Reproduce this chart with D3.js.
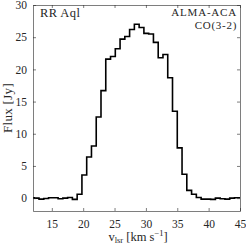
<!DOCTYPE html>
<html>
<head>
<meta charset="utf-8">
<script src="https://cdn.jsdelivr.net/npm/d3@7"></script>
<style>
  body { margin: 0; background: #fff; }
  text { font-family: "Liberation Serif", "DejaVu Serif", serif; fill: #262626; }
</style>
</head>
<body>
<script>
// channel centres (km/s) and flux (Jy)
var velocity = [11.82, 12.58, 13.34, 14.10, 14.86, 15.62, 16.38, 17.14, 17.90,
    18.66, 19.42, 20.18, 20.94, 21.70, 22.46, 23.22, 23.98, 24.74, 25.50,
    26.26, 27.02, 27.78, 28.54, 29.30, 30.06, 30.82, 31.58, 32.34, 33.10,
    33.86, 34.62, 35.38, 36.14, 36.90, 37.66, 38.42, 39.18, 39.94, 40.70,
    41.46, 42.22, 42.98, 43.74, 44.50, 45.26];
var flux = [0.05, 0.0, -0.15, -0.05, 0.05, 0.05, -0.1, 0.0, 0.1,
    -0.2, 0.6, 3.6, 6.4, 8.1, 12.6, 16.7, 21.6, 22.0, 23.2,
    24.7, 25.1, 26.2, 27.0, 26.5, 25.6, 25.5, 24.2, 21.8, 22.3,
    18.7, 13.5, 7.8, 3.7, 1.2, 0.6, 0.1, -0.15, -0.15, -0.2,
    0.0, -0.1, -0.15, 0.0, 0.05, 0.05];
var xTicks = [15, 20, 25, 30, 35, 40, 45];
var yTicks = [0, 5, 10, 15, 20, 25, 30];

var W = 246, H = 245;
var margin = { top: 5, right: 6, bottom: 34, left: 33 },
    width = W - margin.left - margin.right,
    height = H - margin.top - margin.bottom;

var svg = d3.select("body").append("svg")
    .attr("width", W)
    .attr("height", H);

var g = svg.append("g")
    .attr("transform", "translate(" + margin.left + "," + margin.top + ")");

var x = d3.scaleLinear().domain([12, 45]).range([0, width]);
var y = d3.scaleLinear().domain([-2, 30]).range([height, 0]);

svg.append("clipPath").attr("id", "clip")
  .append("rect").attr("width", width).attr("height", height);

// spectrum as stairs, steps at channel edges
var data = velocity.map(function(v, i) { return [v, flux[i]]; });
var line = d3.line()
    .x(function(d) { return x(d[0]); })
    .y(function(d) { return y(d[1]); })
    .curve(d3.curveStep);

g.append("path")
    .datum(data)
    .attr("clip-path", "url(#clip)")
    .attr("fill", "none")
    .attr("stroke", "#000")
    .attr("stroke-width", 1.6)
    .attr("d", line);

// box axes with inward ticks
function styleAxis(sel) {
  sel.selectAll(".domain").attr("stroke", "#262626").attr("stroke-width", 0.6);
  sel.selectAll(".tick line").attr("stroke", "#262626").attr("stroke-width", 0.6);
  sel.selectAll("text").attr("font-size", "11.5px")
    .attr("font-family", "Liberation Serif, serif").attr("fill", "#262626");
}

g.append("g").attr("transform", "translate(0," + height + ")")
  .call(d3.axisBottom(x).tickValues(xTicks).tickSizeInner(-3).tickSizeOuter(0).tickPadding(9))
  .call(styleAxis);
g.append("g")
  .call(d3.axisTop(x).tickValues(xTicks).tickSizeInner(-3).tickSizeOuter(0).tickFormat(""))
  .call(styleAxis);
g.append("g")
  .call(d3.axisLeft(y).tickValues(yTicks).tickSizeInner(-3).tickSizeOuter(0).tickPadding(6))
  .call(styleAxis);
g.append("g").attr("transform", "translate(" + width + ",0)")
  .call(d3.axisRight(y).tickValues(yTicks).tickSizeInner(-3).tickSizeOuter(0).tickFormat(""))
  .call(styleAxis);

// labels
var xl = svg.append("text")
    .attr("x", 138).attr("y", 241)
    .attr("text-anchor", "middle")
    .attr("font-size", "12.5px");
xl.append("tspan").text("v");
xl.append("tspan").attr("font-size", "8.5px").attr("dy", 2).text("lsr");
xl.append("tspan").attr("dy", -2).text(" [km s");
xl.append("tspan").attr("font-size", "8.5px").attr("dy", -5).text("−1");
xl.append("tspan").attr("dy", 5).text("]");

svg.append("text")
    .attr("transform", "translate(12," + (margin.top + height / 2) + ") rotate(-90)")
    .attr("text-anchor", "middle")
    .attr("font-size", "13px")
    .attr("letter-spacing", "0.3px")
    .text("Flux [Jy]");

svg.append("text")
    .attr("x", margin.left + 7).attr("y", 17)
    .attr("font-size", "12.5px")
    .attr("letter-spacing", "0.4px")
    .text("RR Aql");
svg.append("text")
    .attr("x", margin.left + width - 3).attr("y", 16)
    .attr("text-anchor", "end")
    .attr("font-size", "11px")
    .attr("letter-spacing", "0.8px")
    .text("ALMA-ACA");
svg.append("text")
    .attr("x", margin.left + width - 3).attr("y", 28.5)
    .attr("text-anchor", "end")
    .attr("font-size", "11px")
    .attr("letter-spacing", "0.7px")
    .text("CO(3-2)");
</script>
</body>
</html>
